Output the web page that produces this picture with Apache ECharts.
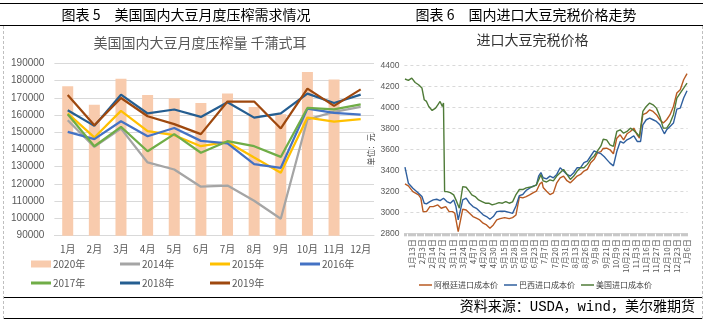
<!DOCTYPE html>
<html><head><meta charset="utf-8">
<script src="https://cdn.jsdelivr.net/npm/echarts/dist/echarts.min.js"></script>
<style>html,body{margin:0;padding:0;background:#fff}#c{width:708px;height:321px}</style>
</head><body><div id="c"></div>
<script>
// ---------- Left chart data ----------
const months = ['1月','2月','3月','4月','5月','6月','7月','8月','9月','10月','11月','12月'];
const y2020 = [176700,165900,181100,171600,169700,167000,172500,164700,160500,185000,180600,null];
const y2014 = [157000,141500,152100,132500,128400,118400,119100,110300,99800,157400,161800,164700];
const y2015 = [161000,147000,162400,150600,148300,141900,144400,135400,126500,158500,156200,157600];
const y2016 = [150200,146000,156400,147700,152500,145000,143500,131500,129400,163700,161200,160300];
const y2017 = [160500,141900,153100,139000,148900,138100,144800,141900,135700,164100,163300,166200];
const y2018 = [162800,153700,171800,160900,163200,158900,167400,158500,160900,172400,167000,171800];
const y2019 = [171600,154100,169900,159300,154700,148900,167800,167800,152200,175300,165300,174900];

// ---------- Right chart data ----------
const dateLabels = ['1月13日','2月3日','2月14日','2月27日','3月11日','3月24日','4月7日','4月20日','4月30日','5月15日','5月28日','6月10日','6月23日','7月7日','7月20日','7月31日','8月13日','8月26日','9月8日','9月21日','10月9日','10月21日','11月3日','11月16日','11月27日','12月10日','12月23日','1月6日'];
const tradingDays = 250;      // number of daily categories on the axis
const firstLabelAt = 6;       // category index of the first date label
const labelEvery = 9;         // a date label every 9 trading days

const argIdx = [0,3,7,12,14,16,19,22,25,29,32,36,39,42,44,47,51,54,57,60,63,66,69,72,75,78,81,84,88,92,95,98,101,104,107,110,113,116,119,121,122,125,128,131,134,137,140,143,146,149,152,155,158,161,164,167,170,173,175,178,181,184,187,190,193,196,199,202,205,207,210,213,216,219,222,225,228,231,234,237,240,243,246,249];
const argVal = [3272,3253,3198,3167,3135,3007,3007,3055,3055,3071,3039,3055,3007,3007,2991,2816,3030,3023,2991,2960,2944,2928,2896,2880,2848,2880,2928,2940,2950,2940,2950,2975,3147,3138,3150,3166,3186,3202,3270,3290,3238,3202,3170,3186,3282,3330,3346,3302,3282,3314,3346,3362,3394,3410,3474,3506,3570,3580,3610,3613,3597,3559,3708,3740,3692,3750,3772,3804,3740,3708,3932,3947,3979,3963,3932,3884,3852,3884,3932,4011,4139,4171,4266,4324];

const braIdx = [0,3,7,12,15,17,19,22,25,28,31,34,37,40,43,45,47,51,54,57,60,63,66,69,72,75,78,81,84,88,92,95,98,101,104,107,110,113,116,118,120,122,125,128,131,134,137,140,143,146,149,152,155,158,161,164,167,170,173,176,178,181,184,187,190,193,196,199,202,205,208,210,213,216,219,222,225,228,229,231,234,237,240,243,246,249];
const braVal = [3431,3278,3230,3183,3151,3087,3081,3103,3119,3125,3112,3135,3103,3087,3119,3055,2928,3119,3135,3087,3055,3039,3007,2976,2960,2934,2960,3007,3010,3010,3000,2990,3060,3160,3170,3210,3230,3250,3260,3346,3380,3330,3320,3346,3330,3362,3426,3394,3362,3346,3378,3426,3426,3474,3490,3538,3586,3570,3560,3530,3506,3470,3444,3581,3677,3661,3692,3708,3731,3677,3677,3836,3884,3900,3884,3868,3836,3772,3750,3788,3820,3852,3986,3995,4091,4161];

const usIdx = [0,3,6,9,12,15,17,19,21,24,27,29,31,33,34,35,37,40,43,45,48,51,54,57,59,62,65,68,71,74,77,80,83,86,89,92,95,98,101,104,107,110,113,116,118,120,122,125,128,131,134,137,140,143,146,149,152,155,158,161,164,167,170,173,175,178,181,184,187,190,193,196,199,202,205,207,210,213,216,219,222,225,228,231,234,237,240,243,246,249];
const usVal = [4273,4260,4282,4240,4218,4186,4075,4059,4011,3973,3995,4027,4059,4011,4043,3198,3198,3189,3167,3119,3039,3246,3240,3198,3167,3151,3119,3103,3087,3087,3071,3081,3093,3087,3103,3087,3100,3170,3218,3218,3234,3240,3246,3262,3310,3360,3300,3290,3310,3300,3346,3378,3410,3362,3314,3346,3394,3426,3426,3458,3506,3538,3586,3634,3698,3692,3645,3629,3772,3788,3756,3772,3804,3782,3750,3724,3963,4011,4043,4027,3995,3916,3804,3804,3852,3932,4091,4139,4186,4234];

// ---------- build ----------
const dayCats = [];
for (let i = 0; i < tradingDays; i++) {
  const k = (i - firstLabelAt) / labelEvery;
  dayCats.push(Number.isInteger(k) && k >= 0 && k < dateLabels.length ? dateLabels[k] : 'd' + i);
}
const zip = (a, b) => a.map((x, j) => [x, b[j]]);

const CJK = '"Noto Sans CJK SC", sans-serif';
const NUM = '"Liberation Sans Narrow", "Liberation Sans", sans-serif';
const GRAY = '#595959';
const plain = v => String(v);

const lineColors = {'2014年':'#A5A5A5','2015年':'#FFC000','2016年':'#4472C4','2017年':'#70AD47','2018年':'#255E91','2019年':'#9E480E'};
const lineData = {'2014年':y2014,'2015年':y2015,'2016年':y2016,'2017年':y2017,'2018年':y2018,'2019年':y2019};

const series = [{
  name: '2020年', type: 'bar', xAxisIndex: 0, yAxisIndex: 0, data: y2020,
  barWidth: 11, itemStyle: {color: '#F8CBAD'}, silent: true
}];
Object.keys(lineData).forEach(n => series.push({
  name: n, type: 'line', xAxisIndex: 0, yAxisIndex: 0, data: lineData[n],
  symbol: 'none', lineStyle: {width: 2.25, color: lineColors[n]}, itemStyle: {color: lineColors[n]}
}));
const rightLines = [
  ['阿根廷进口成本价', '#B85A22', zip(argIdx, argVal)],
  ['巴西进口成本价', '#2F5F9E', zip(braIdx, braVal)],
  ['美国进口成本价', '#4F7B38', zip(usIdx, usVal)]
];
rightLines.forEach(r => series.push({
  name: r[0], type: 'line', xAxisIndex: 1, yAxisIndex: 1, data: r[2],
  symbol: 'none', lineStyle: {width: 1.4, color: r[1]}, itemStyle: {color: r[1]}
}));

function leftLegend(name, left, top, isBar) {
  return {
    data: [name], left: left, top: top, padding: 0, orient: 'horizontal',
    icon: 'rect', itemWidth: 20, itemHeight: isBar ? 7 : 3, itemGap: 0,
    textStyle: {fontSize: 10, color: GRAY, fontFamily: CJK, lineHeight: 12, padding: [0,0,0,-3]},
    selectedMode: false
  };
}

const option = {
  animation: false,
  textStyle: {fontFamily: CJK},
  grid: [
    {left: 54.4, right: 334, top: 63.3, bottom: 85.3},
    {left: 404.4, right: 20.4, top: 65.7, bottom: 87.7}
  ],
  xAxis: [
    {gridIndex: 0, type: 'category', data: months,
     axisLine: {lineStyle: {color: '#D9D9D9'}}, axisTick: {show: false},
     axisLabel: {color: GRAY, fontSize: 10, margin: 9, interval: 0, fontFamily: CJK}},
    {gridIndex: 1, type: 'category', data: dayCats,
     axisLine: {lineStyle: {color: '#D9D9D9'}},
     axisTick: {show: true, interval: 0, length: 3, lineStyle: {color: '#C8C8C8'}},
     axisLabel: {color: GRAY, fontSize: 8, rotate: 90, margin: 6, fontFamily: CJK,
       interval: (i) => i >= firstLabelAt && (i - firstLabelAt) % labelEvery === 0}}
  ],
  yAxis: [
    {gridIndex: 0, type: 'value', min: 90000, max: 190000, interval: 10000,
     axisLine: {show: false}, axisTick: {show: false},
     splitLine: {lineStyle: {color: '#D9D9D9', width: 1}},
     axisLabel: {color: GRAY, fontSize: 10, margin: 10, fontFamily: NUM, formatter: plain}},
    {gridIndex: 1, type: 'value', min: 2800, max: 4400, interval: 200,
     axisLine: {show: false}, axisTick: {show: false},
     splitLine: {lineStyle: {color: '#D9D9D9', width: 1, type: [3, 3]}},
     axisLabel: {color: GRAY, fontSize: 8.5, margin: 5, fontFamily: NUM, formatter: plain},
     name: '单位：元', nameLocation: 'middle', nameRotate: 90, nameGap: 29,
     nameTextStyle: {fontSize: 8, color: '#404040', fontFamily: CJK}}
  ],
  legend: [
    leftLegend('2020年', 31, 258, true),
    leftLegend('2014年', 120, 258),
    leftLegend('2015年', 210, 258),
    leftLegend('2016年', 300, 258),
    leftLegend('2017年', 31, 277),
    leftLegend('2018年', 120, 277),
    leftLegend('2019年', 210, 277),
    {data: rightLines.map(r => r[0]), left: 419, top: 280, padding: 0, icon: 'rect',
     itemWidth: 13, itemHeight: 1.5, itemGap: 6, selectedMode: false,
     textStyle: {fontSize: 8, color: '#404040', fontFamily: CJK, lineHeight: 10, padding: [0,0,0,-3]}}
  ],
  graphic: [
    {type: 'line', shape: {x1: 0, y1: 3.5, x2: 703, y2: 3.5}, style: {stroke: '#000', lineWidth: 1.2}, silent: true},
    {type: 'line', shape: {x1: 0, y1: 25.5, x2: 703, y2: 25.5}, style: {stroke: '#000', lineWidth: 1.2}, silent: true},
    {type: 'line', shape: {x1: 3, y1: 297.5, x2: 703, y2: 297.5}, style: {stroke: '#000', lineWidth: 1.2}, silent: true},
    {type: 'line', shape: {x1: 3, y1: 318.5, x2: 703, y2: 318.5}, style: {stroke: '#000', lineWidth: 1.2}, silent: true},
    {type: 'line', shape: {x1: 3.5, y1: 26, x2: 3.5, y2: 321}, style: {stroke: '#BFBFBF', lineWidth: 1, lineDash: [3, 2]}, silent: true},
    {type: 'line', shape: {x1: 702.5, y1: 26, x2: 702.5, y2: 321}, style: {stroke: '#BFBFBF', lineWidth: 1, lineDash: [3, 2]}, silent: true},
    {type: 'text', x: 186, y: 14.5, silent: true,
     style: {text: '图表 5　美国国内大豆月度压榨需求情况', font: '14px ' + CJK, fill: '#000', align: 'center', verticalAlign: 'middle', textAlign: 'center', textVerticalAlign: 'middle'}},
    {type: 'text', x: 526, y: 14.5, silent: true,
     style: {text: '图表 6　国内进口大豆完税价格走势', font: '14px ' + CJK, fill: '#000', align: 'center', verticalAlign: 'middle', textAlign: 'center', textVerticalAlign: 'middle'}},
    {type: 'text', x: 200, y: 43, silent: true,
     style: {text: '美国国内大豆月度压榨量 千蒲式耳', font: '14px ' + CJK, fill: GRAY, align: 'center', verticalAlign: 'middle', textAlign: 'center', textVerticalAlign: 'middle'}},
    {type: 'text', x: 532.5, y: 40, silent: true,
     style: {text: '进口大豆完税价格', font: '14px ' + CJK, fill: '#333', align: 'center', verticalAlign: 'middle', textAlign: 'center', textVerticalAlign: 'middle'}},
    {type: 'text', x: 695, y: 307.5, silent: true,
     style: {text: '资料来源：USDA，wind，美尔雅期货', font: '14px "Liberation Mono", ' + CJK, fill: '#000', align: 'right', verticalAlign: 'middle', textAlign: 'right', textVerticalAlign: 'middle'}}
  ],
  series: series
};

const chart = echarts.init(document.getElementById('c'), null, {renderer: 'canvas'});
chart.setOption(option);
</script>
</body></html>
